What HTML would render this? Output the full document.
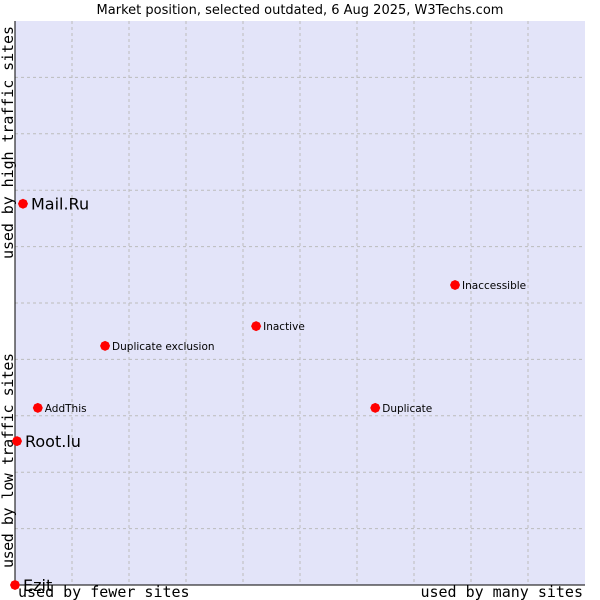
<!DOCTYPE html>
<html><head><meta charset="utf-8"><style>
body{margin:0;background:#fff;}
svg{display:block;font-family:"DejaVu Sans","Liberation Sans",sans-serif;}
.mono{font-family:"DejaVu Sans Mono","Liberation Mono",monospace;}
</style></head><body>
<svg id="chart" width="600" height="600">
<text x="300" y="14" text-anchor="middle" font-size="13" fill="#000">Market position, selected outdated, 6 Aug 2025, W3Techs.com</text>
<rect x="15" y="21" width="570" height="564" fill="#e3e4f9"/>
<g id="grid"></g>
<line x1="15" y1="21" x2="15" y2="585" stroke="#000"/>
<line x1="15" y1="585" x2="585" y2="585" stroke="#000"/>
<text class="mono" x="18" y="597" font-size="15">used by fewer sites</text>
<text class="mono" x="583" y="597" font-size="15" text-anchor="end">used by many sites</text>
<text class="mono" transform="translate(13,568) rotate(-90)" font-size="15" textLength="215">used by low traffic sites</text>
<text class="mono" transform="translate(13,259) rotate(-90)" font-size="15" textLength="233">used by high traffic sites</text>
<g id="points"></g>
</svg>
<script>
const names=["Mail.Ru","Root.lu","Ezit","AddThis","Duplicate exclusion","Inactive","Inaccessible","Duplicate"];
const xVals=[1.4,0.35,0,4.0,15.8,42.3,77.2,63.2];
const yVals=[67.6,25.5,0,31.4,42.4,45.9,53.2,31.4];
const bigLabel=[true,true,true,false,false,false,false,false];
const NS="http://www.w3.org/2000/svg";
const X0=15,X1=585,Y0=585,Y1=21;
const sx=v=>X0+v/100*(X1-X0);
const sy=v=>Y0-v/100*(Y0-Y1);
const grid=document.getElementById('grid');
for(let i=1;i<10;i++){
  const l=document.createElementNS(NS,'line');
  l.setAttribute('x1',sx(i*10));l.setAttribute('x2',sx(i*10));l.setAttribute('y1',Y1);l.setAttribute('y2',Y0);
  l.setAttribute('stroke','#bcbcbc');l.setAttribute('stroke-dasharray','3,3');
  
  
  grid.appendChild(l);
  const h=document.createElementNS(NS,'line');
  h.setAttribute('y1',sy(i*10));h.setAttribute('y2',sy(i*10));h.setAttribute('x1',X0);h.setAttribute('x2',X1);
  h.setAttribute('stroke','#bcbcbc');h.setAttribute('stroke-dasharray','3,3');
  
  
  grid.appendChild(h);
}
const pts=document.getElementById('points');
names.forEach((n,i)=>{
  const x=sx(xVals[i]),y=sy(yVals[i]);
  const p=document.createElementNS(NS,'polygon');
  p.setAttribute('points',`${x},${y-5} ${x+3.5},${y-3.5} ${x+5},${y} ${x+3.5},${y+3.5} ${x},${y+5} ${x-3.5},${y+3.5} ${x-5},${y} ${x-3.5},${y-3.5}`);
  p.setAttribute('fill','#ff0000');
  
  
  pts.appendChild(p);
  const t=document.createElementNS(NS,'text');
  t.setAttribute('x',x+(bigLabel[i]?8:7));t.setAttribute('y',y+(bigLabel[i]?6:4));
  t.setAttribute('font-size',bigLabel[i]?'16':'10.5');
  t.textContent=n;
  
  
  pts.appendChild(t);
});
</script>
</body></html>
